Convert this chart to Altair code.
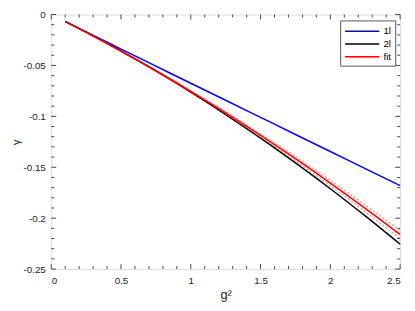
import altair as alt
import pandas as pd

# ---- data ----
g2 = [0.1, 0.25, 0.5, 0.75, 1.0, 1.25, 1.5, 1.75, 2.0, 2.25, 2.5]
one_loop = [-0.0070, -0.0171, -0.0339, -0.0507, -0.0675, -0.0842, -0.1010, -0.1178, -0.1345, -0.1513, -0.1680]
two_loop = [-0.0068, -0.0173, -0.0358, -0.0554, -0.0762, -0.0982, -0.1213, -0.1457, -0.1711, -0.1978, -0.2256]
fit = [-0.0069, -0.0175, -0.0359, -0.0552, -0.0755, -0.0966, -0.1187, -0.1416, -0.1655, -0.1903, -0.2160]
fit_upper = [-0.0069, -0.0173, -0.0355, -0.0546, -0.0747, -0.0954, -0.1171, -0.1395, -0.1628, -0.1870, -0.2120]
fit_lower = [-0.0069, -0.0177, -0.0363, -0.0558, -0.0763, -0.0978, -0.1203, -0.1437, -0.1682, -0.1936, -0.2200]

series_names = ["1l", "2l", "fit"]
series_colors = ["#0000ff", "#000000", "#ff0000"]

x_major = [0, 0.5, 1, 1.5, 2, 2.5]
x_minor = [0.1, 0.2, 0.3, 0.4, 0.6, 0.7, 0.8, 0.9, 1.1, 1.2, 1.3, 1.4,
           1.6, 1.7, 1.8, 1.9, 2.1, 2.2, 2.3, 2.4]
y_major = [0, -0.05, -0.1, -0.15, -0.2, -0.25]
y_minor = [-0.01, -0.02, -0.03, -0.04, -0.06, -0.07, -0.08, -0.09,
           -0.11, -0.12, -0.13, -0.14, -0.16, -0.17, -0.18, -0.19,
           -0.21, -0.22, -0.23, -0.24]

W, H = 355, 259
MAJ, MIN = 5, 3

rows = []
for name, vals in zip(series_names, [one_loop, two_loop, fit]):
    for x, y in zip(g2, vals):
        rows.append({"g2": x, "gamma": y, "series": name})
df = pd.DataFrame(rows)
band = pd.DataFrame({"g2": g2, "hi": fit_upper, "lo": fit_lower})

xsc = alt.Scale(domain=[0, 2.5], nice=False, zero=False)
ysc = alt.Scale(domain=[-0.25, 0], nice=False, zero=False)

xaxis = alt.Axis(values=x_major, labelExpr="datum.value + ''", ticks=False, domain=False,
                 grid=False, labelFontSize=10, labelPadding=7, title="g²",
                 titleFontSize=13, titleFontWeight="normal", titlePadding=3,
                 labelColor="#222", titleColor="#222")
yaxis = alt.Axis(values=y_major, labelExpr="datum.value + ''", ticks=False, domain=False,
                 grid=False, labelFontSize=10, labelPadding=6, title="γ",
                 titleFontSize=12, titleFontWeight="normal", titlePadding=1,
                 labelColor="#222", titleColor="#222")

lines_base = alt.Chart(df)

legend = alt.Legend(title=None, orient="none", legendX=W - 61, legendY=6,
                    symbolType="M-1,0H4.8", symbolSize=144,
                    symbolStrokeWidth=1.5, labelFontSize=10, labelColor="#000",
                    strokeColor="#555", fillColor="white",
                    padding=4, rowPadding=1, labelOffset=26)

main = lines_base.transform_filter(alt.datum.series != "fit").mark_line(
    strokeWidth=1.5, interpolate="monotone").encode(
    x=alt.X("g2:Q", scale=xsc, axis=xaxis),
    y=alt.Y("gamma:Q", scale=ysc, axis=yaxis),
    color=alt.Color("series:N", scale=alt.Scale(domain=series_names, range=series_colors),
                    legend=legend),
)

band_hi = alt.Chart(band).mark_line(strokeWidth=1.2, strokeDash=[2, 2], opacity=0.6,
                                    interpolate="monotone").encode(
    x=alt.X("g2:Q", scale=xsc), y=alt.Y("hi:Q", scale=ysc), color=alt.value("#ff3333"))
band_lo = alt.Chart(band).mark_line(strokeWidth=1.2, strokeDash=[2, 2], opacity=0.6,
                                    interpolate="monotone").encode(
    x=alt.X("g2:Q", scale=xsc), y=alt.Y("lo:Q", scale=ysc), color=alt.value("#ff3333"))

fit_line = lines_base.transform_filter(alt.datum.series == "fit").mark_line(
    strokeWidth=1.5, interpolate="monotone").encode(
    x=alt.X("g2:Q", scale=xsc), y=alt.Y("gamma:Q", scale=ysc),
    color=alt.Color("series:N", scale=alt.Scale(domain=series_names, range=series_colors)))

tick_color = "#444"

def xticks(vals, length):
    d = pd.DataFrame({"t": vals})
    c = alt.Chart(d).mark_rule(color=tick_color, strokeWidth=1)
    bottom = c.encode(x=alt.X("t:Q", scale=xsc), y=alt.value(H), y2=alt.value(H - length))
    top = c.encode(x=alt.X("t:Q", scale=xsc), y=alt.value(0), y2=alt.value(length))
    return [bottom, top]

def yticks(vals, length):
    d = pd.DataFrame({"t": vals})
    c = alt.Chart(d).mark_rule(color=tick_color, strokeWidth=1)
    left = c.encode(y=alt.Y("t:Q", scale=ysc), x=alt.value(0), x2=alt.value(length))
    right = c.encode(y=alt.Y("t:Q", scale=ysc), x=alt.value(W), x2=alt.value(W - length))
    return [left, right]

tick_layers = xticks(x_major, MAJ) + xticks(x_minor, MIN) + yticks(y_major, MAJ) + yticks(y_minor, MIN)

chart = alt.layer(main, band_hi, band_lo, fit_line, *tick_layers).properties(
    width=W, height=H,
    autosize=alt.AutoSizeParams(type="none"),
    padding={"left": 44, "top": 4, "right": 7, "bottom": 40},
).configure_view(stroke="#444", strokeWidth=1).configure(
    font="Liberation Sans"
)

chart.save("out.html", embed_options={"renderer": "svg", "actions": False})
